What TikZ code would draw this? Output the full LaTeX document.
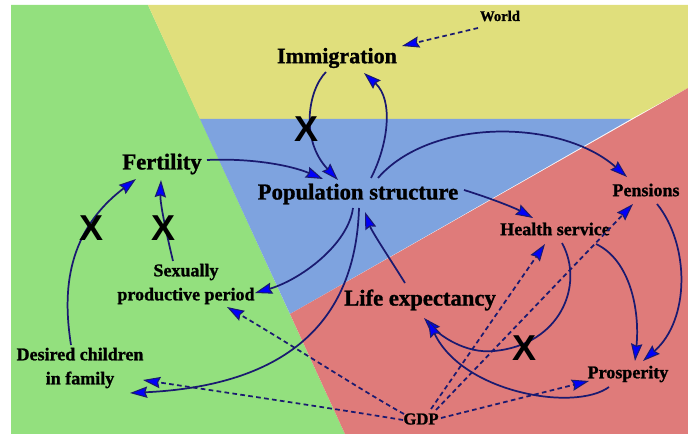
\documentclass[tikz,border=0pt]{standalone}
\usepackage{fontspec}
\setmainfont{Liberation Serif}[BoldFeatures={FakeBold=1.2}]
\newfontfamily\crossfont{Liberation Sans}
\usetikzlibrary{arrows.meta,calc}
\definecolor{fieldgreen}{RGB}{147,224,126}
\definecolor{fieldyellow}{RGB}{224,223,124}
\definecolor{fieldblue}{RGB}{126,163,223}
\definecolor{fieldpink}{RGB}{223,123,122}
\definecolor{linkblue}{RGB}{26,26,112}
\definecolor{tipblue}{RGB}{0,0,250}
\begin{document}
\begin{tikzpicture}[x=0.75pt,y=-0.75pt,
  big/.style={font=\fontsize{17}{20}\selectfont\bfseries},
  mid/.style={font=\fontsize{13.5}{18}\selectfont\bfseries,align=center},
  link/.style={draw=linkblue,line width=1.3pt,-{Stealth[length=13pt,width=8.5pt,inset=1.5pt,fill=tipblue,line width=0.8pt]}},
  cue/.style={link,dash pattern=on 3.5pt off 2.5pt},
  cross/.style={font=\crossfont\fontsize{27}{27}\selectfont\bfseries}]
\useasboundingbox (0,0) rectangle (688,434);
\fill[fieldgreen] (11,5) -- (148,5) -- (345,434) -- (11,434) -- cycle;
\fill[fieldyellow] (148,5) -- (688,5) -- (688,88) -- (631,119) -- (200,119) -- cycle;
\fill[fieldblue] (200,119) -- (631,119) -- (290,314) -- cycle;
\fill[fieldpink] (290,314) -- (688,88) -- (688,434) -- (345,434) -- cycle;
\node[font=\fontsize{11}{13}\selectfont\bfseries] (world) at (500,16) {World};
\node[font=\fontsize{16.5}{20}\selectfont\bfseries] (imm) at (337,58) {Immigration};
\node[big] (fert) at (162,164) {Fertility};
\node[big] (pop) at (358,194) {Population structure};
\node[mid] (pens) at (646,190) {Pensions};
\node[mid] (health) at (555,229) {Health service};
\node[mid] (sex) at (186,284) {Sexually\\productive period};
\node[big] (life) at (420,300) {Life expectancy};
\node[mid] (desired) at (80,368) {Desired children\\in family};
\node[mid] (prosp) at (628,374) {Prosperity};
\node[font=\fontsize{12.5}{15}\selectfont\bfseries] (gdp) at (421,419) {GDP};
\draw[cue] ($(world)+(-22,12)$) -- ($(imm)+(65,-12)$);
\draw[link] ($(imm)+(-11,14)$) .. controls +(-18,18) and +(-38,-40) .. ($(pop)+(-20,-14)$);
\draw[link] ($(pop)+(13,-16)$) .. controls +(17,-33) and +(30,27) .. ($(imm)+(27,15)$);
\draw[link] ($(fert)+(45,-4)$) .. controls +(43,-2) and +(-33,-14) .. ($(pop)+(-35,-15)$);
\draw[link] ($(pop)+(20,-16)$) .. controls +(52,-60) and +(-67,-59) .. ($(pens)+(-19,-13)$);
\draw[link] ($(pop)+(106,-4)$) .. controls +(26,8) and +(-18,-10) .. ($(health)+(-22,-11)$);
\draw[link] ($(pop)+(-5,14)$) .. controls +(-5,37) and +(45,-13) .. ($(sex)+(69,9)$);
\draw[link] ($(pop)+(1,14)$) .. controls +(-3,102) and +(170,-8) .. ($(desired)+(50,25)$);
\draw[link] ($(life)+(-15,-17)$) .. controls +(-13,-21) and +(7,20) .. ($(pop)+(7,18)$);
\draw[link] ($(sex)+(-13,-23)$) .. controls +(-5,-21) and +(-1,25) .. ($(fert)+(-1,16)$);
\draw[link] ($(desired)+(-9,-23)$) .. controls +(-7,-45) and +(-74,56) .. ($(fert)+(-26,15)$);
\draw[link] ($(health)+(7,14)$) .. controls +(23,42) and +(66,-6) .. ($(life)+(74,51)$) .. controls +(-29,3) and +(16,17) .. ($(life)+(4,18)$);
\draw[link] ($(prosp)+(-19,13)$) .. controls +(-34,25) and +(35,73) .. ($(life)+(8,20)$);
\draw[link] ($(health)+(41,15)$) .. controls +(34,16) and +(5,-51) .. ($(prosp)+(7,-13)$);
\draw[link] ($(pens)+(11,14)$) .. controls +(33,41) and +(47,-41) .. ($(prosp)+(15,-13)$);
\draw[cue] ($(gdp)+(10,-10)$) -- ($(health)+(-10,15)$);
\draw[cue] ($(gdp)+(15,-9)$) -- ($(pens)+(-13,14)$);
\draw[cue] ($(gdp)+(20,-1)$) -- ($(prosp)+(-39,7)$);
\draw[cue] ($(gdp)+(-17,-5)$) .. controls +(-40,-22) and +(60,35) .. ($(sex)+(41,23)$);
\draw[cue] ($(gdp)+(-18,1)$) .. controls +(-60,-10) and +(80,12) .. ($(desired)+(63,12)$);
\node[cross] (cutimm) at (307,129) {X};
\node[cross] (cutdesired) at (92,228) {X};
\node[cross] (cutsex) at (164,228) {X};
\node[cross] (cuthealth) at (524,348) {X};
\end{tikzpicture}
\end{document}
